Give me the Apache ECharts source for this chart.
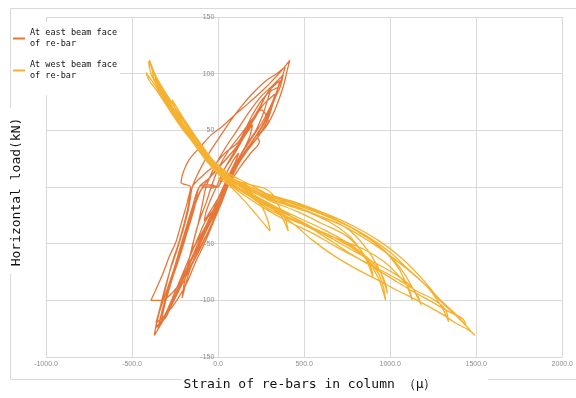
<!DOCTYPE html>
<html>
<head>
<meta charset="utf-8">
<title>Strain of re-bars in column</title>
<script src="https://cdn.jsdelivr.net/npm/echarts@6.0.0/dist/echarts.min.js"></script>
<style>
    html, body { margin: 0; padding: 0; background: #fff; }
    #main { width: 576px; height: 398px; }
</style>
</head>
<body>
<div id="main"></div>
<script>
    // strain (μ), load (kN) pairs, cycle by cycle
    const eastC1 = [[0,0],[40,10],[90,24],[120,30],[100,22],[60,10],[30,0],[0,-10],[-40,-20],[-80,-30],[-70,-22],[-40,-10],[-10,0]]
    const eastC2 = [[30,14],[90,30],[150,44],[200,55],[185,45],[140,30],[90,14],[50,0],[10,-12],[-40,-26],[-100,-42],[-150,-56],[-140,-46],[-110,-30],[-70,-14],[-40,0]]
    const eastC3 = [[0,16],[60,32],[130,46],[200,60],[250,68],[292,58],[270,52],[230,44],[240,40],[190,30],[130,18],[70,4],[40,-4],[0,-18],[-60,-36],[-120,-56],[-170,-76],[-209,-98],[-200,-88],[-180,-72],[-150,-52],[-115,-32],[-90,-14],[-70,0]]
    const eastC4 = [[-20,18],[40,34],[110,50],[180,66],[250,80],[320,90],[379,99],[360,88],[330,78],[300,66],[260,54],[200,40],[140,26],[90,12],[55,0],[20,-14],[-30,-32],[-80,-50],[-130,-66],[-180,-84],[-240,-100],[-300,-112],[-361,-120],[-340,-108],[-310,-90],[-280,-74],[-240,-56],[-200,-36],[-170,-18],[-150,0]]
    const eastC5 = [[-110,14],[-60,28],[0,42],[70,58],[140,72],[210,84],[280,94],[340,100],[390,106],[370,96],[345,86],[320,74],[290,60],[240,46],[170,32],[110,18],[60,2],[30,-10],[-20,-28],[-80,-46],[-140,-64],[-200,-80],[-270,-94],[-330,-100],[-390,-100],[-360,-90],[-320,-76],[-280,-60],[-246,-49],[-210,-30],[-180,-14],[-160,0]]
    const eastC6 = [[-215,4],[-200,14],[-169,24],[-100,36],[-40,46],[21,53],[100,64],[177,74],[250,84],[310,93],[370,103],[417,112],[400,102],[385,92],[360,80],[330,68],[290,56],[230,44],[160,30],[100,16],[50,0],[20,-12],[-30,-30],[-90,-50],[-150,-68],[-210,-86],[-270,-104],[-320,-118],[-371,-131],[-355,-118],[-330,-104],[-300,-86],[-270,-68],[-230,-50],[-200,-34],[-175,-18],[-150,0]]
    const eastC7 = [[-90,10],[-30,18],[40,30],[119,40],[194,62],[250,76],[300,84],[350,88],[330,80],[300,70],[260,58],[200,44],[140,30],[80,14],[40,0],[0,-14],[-73,-30],[-120,-46],[-160,-60],[-210,-78],[-260,-96],[-303,-111],[-350,-125],[-330,-112],[-300,-96],[-260,-78],[-220,-60],[-180,-40],[-140,-20],[-110,0]]
    const eastC8 = [[-50,8],[20,20],[100,34],[170,52],[230,66],[275,80],[310,88],[290,78],[260,64],[220,50],[160,36],[100,20],[50,4],[10,-8],[-40,-24],[-100,-44],[-152,-62],[-200,-78],[-250,-96],[-300,-114],[-345,-122],[-320,-106],[-285,-88],[-250,-70],[-210,-50],[-170,-30],[-130,-12],[-80,0],[-30,0],[0,0]]
    const eastC9 = [[30,14],[90,28],[150,44],[210,60],[260,72],[330,82],[315,74],[290,64],[250,52],[200,40],[150,28],[100,16],[60,4],[20,-10],[-40,-26],[-90,-42],[-140,-58],[-190,-74],[-240,-92],[-290,-108],[-330,-118],[-310,-104],[-280,-88],[-245,-70],[-205,-50],[-165,-30],[-125,-12],[-90,0]]
    const eastC10 = [[-40,10],[30,22],[110,36],[180,54],[240,70],[290,84],[360,94],[340,84],[310,72],[270,58],[215,44],[150,30],[90,14],[45,0],[0,-16],[-60,-34],[-110,-50],[-170,-70],[-230,-90],[-280,-106],[-340,-120],[-362,-124],[-340,-110],[-300,-92],[-260,-74],[-225,-56],[-190,-38],[-150,-18],[-110,0],[-60,2],[0,0]]

    const westC1 = [[0,8],[60,2],[140,-10],[220,-24],[302,-39],[290,-30],[250,-16],[200,-6],[120,4],[40,12],[-40,24],[-120,42],[-180,56],[-150,46],[-80,30],[0,14],[60,6]]
    const westC2 = [[150,-4],[260,-14],[350,-22],[408,-39],[390,-28],[340,-14],[260,-4],[160,4],[60,12],[-20,22],[-100,38],[-190,58],[-267,77],[-240,66],[-180,50],[-100,32],[-20,18],[60,8]]
    const westC3 = [[180,-2],[300,-12],[465,-22],[600,-32],[754,-44],[850,-60],[930,-80],[973,-100],[960,-88],[930,-76],[860,-62],[760,-50],[620,-38],[480,-28],[340,-18],[200,-8],[100,0],[20,10],[-73,28],[-169,50],[-267,74],[-340,92],[-405,111],[-390,100],[-350,88],[-290,72],[-220,56],[-150,40],[-80,26],[0,14],[100,4]]
    const westC4 = [[250,-8],[400,-16],[560,-24],[735,-35],[850,-52],[940,-74],[984,-94],[970,-84],[930,-72],[850,-60],[720,-48],[580,-38],[440,-30],[300,-20],[180,-8],[60,4],[-40,18],[-140,38],[-240,60],[-330,82],[-419,101],[-400,94],[-360,86],[-300,72],[-230,56],[-160,42],[-80,28],[0,16],[100,6]]
    const westC5 = [[250,-6],[420,-14],[600,-24],[800,-38],[950,-54],[1050,-72],[1100,-88],[1128,-100],[1110,-90],[1060,-80],[965,-66],[860,-56],[700,-46],[560,-38],[400,-26],[250,-14],[120,-2],[0,12],[-100,30],[-200,52],[-300,76],[-382,103],[-370,94],[-320,82],[-260,68],[-180,50],[-100,34],[-20,20],[80,8]]
    const westC6 = [[250,-4],[450,-14],[650,-26],[850,-42],[1003,-58],[1100,-72],[1215,-88],[1300,-106],[1340,-119],[1320,-108],[1260,-100],[1157,-92],[1050,-82],[927,-72],[800,-62],[677,-52],[540,-40],[400,-30],[260,-18],[140,-6],[40,6],[-60,22],[-160,44],[-260,68],[-340,88],[-300,80],[-240,64],[-160,46],[-80,30],[0,18],[100,6]]
    const westC7 = [[280,-2],[350,-11],[500,-20],[735,-35],[900,-50],[1003,-61],[1110,-74],[1215,-88],[1300,-102],[1400,-116],[1492,-131],[1464,-127],[1380,-120],[1300,-112],[1157,-100],[1050,-92],[927,-82],[800,-72],[677,-61],[540,-46],[450,-34],[350,-23],[250,-12],[150,-2],[50,8],[-50,20],[-150,40],[-250,64],[-330,86],[-399,112],[-380,102],[-320,86],[-250,70],[-170,52],[-90,34],[-10,20],[0,18]]
    const westC8 = [[100,4],[230,-6],[380,-14],[520,-22],[660,-32],[780,-46],[860,-64],[900,-80],[890,-72],[850,-62],[760,-52],[640,-42],[520,-34],[400,-24],[280,-14],[160,-2],[60,8],[-30,20],[-120,36],[-210,54],[-300,74],[-360,90],[-340,82],[-290,70],[-220,54],[-150,40],[-70,26],[20,14],[100,4]]
    const westC9 = [[220,-4],[360,-10],[520,-18],[700,-30],[860,-44],[980,-58],[1080,-76],[1140,-92],[1180,-104],[1160,-96],[1110,-86],[1020,-76],[900,-66],[760,-54],[620,-42],[480,-30],[340,-20],[200,-8],[80,6],[-20,18],[-110,34],[-200,54],[-290,74],[-370,96],[-350,88],[-300,76],[-230,60],[-160,44],[-80,30],[10,16],[120,4]]
    const westC10 = [[260,-6],[420,-12],[600,-22],[780,-34],[940,-48],[1060,-62],[1180,-80],[1280,-98],[1380,-112],[1440,-122],[1420,-116],[1340,-110],[1250,-102],[1130,-92],[1000,-80],[870,-68],[740,-56],[600,-42],[470,-30],[340,-18],[220,-8],[100,4],[0,16],[-90,30],[-190,50],[-280,72],[-360,92],[-340,86],[-280,72],[-210,56],[-130,40],[-50,26],[40,12],[120,4]]

    const seriesNames = ['At east beam face\nof re-bar', 'At west beam face\nof re-bar']
    const colors = ['#E5763A', '#F5B230']
    const xTitle = 'Strain of re-bars in column （μ）'
    const yTitle = 'Horizontal load(kN)'

    const eastData = [].concat(eastC1, eastC2, eastC3, eastC4, eastC5, eastC6, eastC7, eastC8, eastC9, eastC10)
    const westData = [].concat(westC1, westC2, westC3, westC4, westC5, westC6, westC7, westC8, westC9, westC10)

    const gridColor = '#d9d9d9'
    const mono = 'DejaVu Sans Mono'
    // plot: x from 46 to 566 px, strain 0 sits 1/3 of the way in
    const plotLeft = 46, plotRight = 10
    const zeroOffset = (576 - plotLeft - plotRight) / 3

    let myChart = echarts.init(document.getElementById('main'), null, {renderer: 'canvas'})
    let option = {
        animation: false,
        backgroundColor: '#fff',
        color: colors,
        grid: {
            left: plotLeft,
            right: plotRight,
            top: 17,
            bottom: 41
        },
        legend: {
            data: seriesNames,
            orient: 'vertical',
            left: 11,
            top: 22,
            padding: [5, 3, 13, 2],
            itemGap: 9,
            itemWidth: 12,
            itemHeight: 2,
            icon: 'rect',
            backgroundColor: '#fff',
            textStyle: {
                fontFamily: mono,
                fontSize: 8.5,
                lineHeight: 11.5,
                color: '#111'
            }
        },
        xAxis: {
            type: 'value',
            min: -1000,
            max: 2000,
            interval: 500,
            axisLine: { onZero: true, lineStyle: { color: gridColor } },
            axisTick: { show: false },
            splitLine: { lineStyle: { color: gridColor } },
            axisLabel: {
                fontSize: 7,
                color: '#8c8c8c',
                margin: 4,
                formatter: function (value) {
                    return value.toFixed(1)
                }
            }
        },
        yAxis: {
            type: 'value',
            min: -150,
            max: 150,
            interval: 50,
            offset: -zeroOffset,
            axisLine: { show: false, onZero: false },
            axisTick: { show: false },
            splitLine: { lineStyle: { color: gridColor } },
            axisLabel: {
                fontSize: 7,
                color: '#8c8c8c',
                margin: 5
            }
        },
        graphic: [
            {
                type: 'rect',
                z: 0,
                shape: { x: 10.5, y: 8.5, width: 570, height: 371 },
                style: { fill: 'none', stroke: gridColor, lineWidth: 1 }
            },
            {
                type: 'rect',
                z: 100,
                shape: { x: 182, y: 370, width: 306, height: 28 },
                style: { fill: '#fff' }
            },
            {
                type: 'text',
                z: 101,
                x: 310,
                y: 385,
                style: {
                    text: xTitle,
                    fontFamily: mono,
                    fontSize: 13,
                    fill: '#111',
                    align: 'center',
                    verticalAlign: 'middle'
                }
            },
            {
                type: 'rect',
                z: 100,
                shape: { x: 2, y: 108, width: 26, height: 166 },
                style: { fill: '#fff' }
            },
            {
                type: 'text',
                z: 101,
                x: 17,
                y: 192,
                rotation: Math.PI / 2,
                style: {
                    text: yTitle,
                    fontFamily: mono,
                    fontSize: 13,
                    fill: '#111',
                    align: 'center',
                    verticalAlign: 'middle'
                }
            }
        ],
        series: [
            {
                name: seriesNames[0],
                type: 'line',
                data: eastData,
                showSymbol: false,
                smooth: 0.3,
                lineStyle: { width: 1.3 },
                z: 3
            },
            {
                name: seriesNames[1],
                type: 'line',
                data: westData,
                showSymbol: false,
                smooth: 0.3,
                lineStyle: { width: 1.3 },
                z: 4
            }
        ]
    };
    myChart.setOption(option);
</script>
</body>
</html>
